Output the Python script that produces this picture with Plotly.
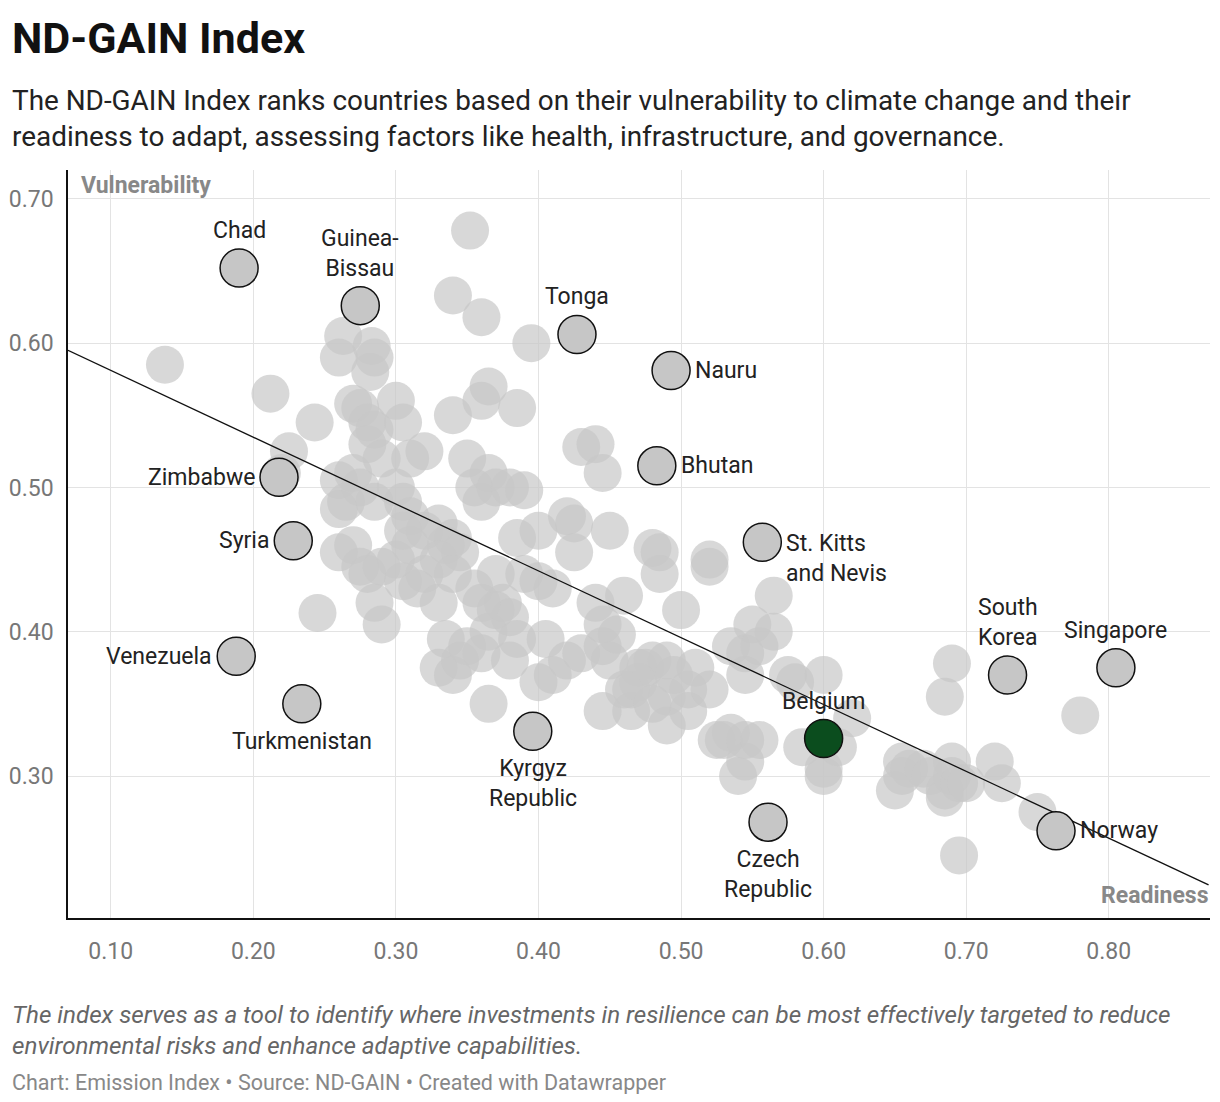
import plotly.graph_objects as go

# ── Data ────────────────────────────────────────────────────────────────────
bg_readiness = [0.138, 0.212, 0.225, 0.22, 0.245, 0.243, 0.26, 0.263, 0.27, 0.275, 0.283, 0.285, 0.282, 0.28, 0.28, 0.285,
                0.3, 0.305, 0.31, 0.32, 0.26, 0.265, 0.26, 0.27, 0.275, 0.285, 0.29, 0.3, 0.305, 0.31, 0.32, 0.33, 0.335,
                0.34, 0.345, 0.34, 0.35, 0.355, 0.36, 0.365, 0.37, 0.38, 0.39, 0.385, 0.36, 0.365, 0.34, 0.36, 0.352,
                0.395, 0.26, 0.27, 0.275, 0.28, 0.29, 0.3, 0.305, 0.315, 0.32, 0.33, 0.285, 0.29, 0.335, 0.33, 0.34,
                0.345, 0.35, 0.36, 0.365, 0.37, 0.375, 0.38, 0.385, 0.38, 0.385, 0.39, 0.4, 0.4, 0.41, 0.405, 0.41, 0.4,
                0.365, 0.42, 0.425, 0.425, 0.43, 0.44, 0.445, 0.45, 0.42, 0.43, 0.44, 0.445, 0.445, 0.45, 0.455, 0.46,
                0.465, 0.47, 0.465, 0.475, 0.48, 0.485, 0.485, 0.48, 0.49, 0.49, 0.49, 0.5, 0.505, 0.51, 0.505, 0.52,
                0.52, 0.52, 0.525, 0.53, 0.535, 0.535, 0.545, 0.545, 0.55, 0.555, 0.565, 0.565, 0.54, 0.545, 0.545,
                0.555, 0.575, 0.58, 0.585, 0.6, 0.6, 0.6, 0.62, 0.61, 0.655, 0.655, 0.66, 0.65, 0.67, 0.675, 0.685,
                0.685, 0.69, 0.69, 0.695, 0.7, 0.72, 0.725, 0.69, 0.685, 0.695, 0.75, 0.78, 0.445, 0.46, 0.47, 0.48,
                0.495, 0.33, 0.34, 0.355, 0.36, 0.37, 0.31, 0.305]
bg_vulnerability = [0.585, 0.565, 0.525, 0.51, 0.413, 0.545, 0.59, 0.605, 0.558, 0.555, 0.598, 0.59, 0.58, 0.545, 0.53, 0.54,
                    0.56, 0.545, 0.52, 0.525, 0.505, 0.49, 0.485, 0.51, 0.5, 0.49, 0.52, 0.5, 0.49, 0.48, 0.47, 0.475, 0.46,
                    0.465, 0.455, 0.55, 0.52, 0.5, 0.49, 0.51, 0.5, 0.5, 0.498, 0.555, 0.56, 0.57, 0.633, 0.618, 0.678,
                    0.6, 0.455, 0.46, 0.445, 0.44, 0.445, 0.45, 0.435, 0.43, 0.44, 0.42, 0.42, 0.405, 0.395, 0.375, 0.37,
                    0.38, 0.39, 0.385, 0.4, 0.415, 0.42, 0.41, 0.395, 0.38, 0.465, 0.44, 0.47, 0.435, 0.43, 0.395, 0.37,
                    0.365, 0.35, 0.48, 0.475, 0.455, 0.528, 0.53, 0.51, 0.47, 0.38, 0.385, 0.42, 0.405, 0.39, 0.38, 0.398,
                    0.425, 0.36, 0.375, 0.345, 0.375, 0.458, 0.455, 0.44, 0.38, 0.38, 0.355, 0.335, 0.415, 0.36, 0.375,
                    0.345, 0.445, 0.45, 0.36, 0.325, 0.325, 0.33, 0.39, 0.385, 0.37, 0.405, 0.39, 0.425, 0.4, 0.3, 0.31,
                    0.325, 0.325, 0.37, 0.365, 0.32, 0.37, 0.3, 0.305, 0.34, 0.32, 0.3, 0.31, 0.305, 0.29, 0.305, 0.3,
                    0.285, 0.29, 0.3, 0.31, 0.295, 0.295, 0.31, 0.295, 0.378, 0.355, 0.245, 0.275, 0.342, 0.345, 0.36,
                    0.365, 0.35, 0.37, 0.45, 0.44, 0.43, 0.42, 0.44, 0.46, 0.47]

countries = ["Chad", "Guinea-<br>Bissau", "Tonga", "Nauru", "Bhutan", "Zimbabwe", "Syria", "St. Kitts<br>and Nevis",
             "Venezuela", "Turkmenistan", "Kyrgyz<br>Republic", "Czech<br>Republic", "Belgium", "South<br>Korea",
             "Singapore", "Norway"]
readiness = [0.19, 0.275, 0.427, 0.493, 0.483, 0.218, 0.228, 0.557, 0.188, 0.234, 0.396, 0.561, 0.600, 0.729, 0.805, 0.763]
vulnerability = [0.652, 0.626, 0.606, 0.581, 0.515, 0.507, 0.463, 0.462, 0.383, 0.350, 0.331, 0.268, 0.326, 0.370, 0.375, 0.262]
label_side = ["top", "top", "top", "right", "right", "left", "left", "right", "left", "bottom", "bottom", "bottom",
              "top", "top", "top", "right"]

trend_x = [0.07, 0.87]
trend_y = [0.595, 0.2245]

FONT = "Roboto"

fig = go.Figure()
fig.add_trace(go.Scatter(
    x=bg_readiness, y=bg_vulnerability, mode="markers",
    marker=dict(size=38, color="rgba(200,200,200,0.7)", line=dict(width=0)),
    showlegend=False, hoverinfo="skip"))
fig.add_trace(go.Scatter(
    x=trend_x, y=trend_y, mode="lines", line=dict(color="#111", width=1.3),
    showlegend=False, hoverinfo="skip"))
colors = ["#0b4d1e" if c == "Belgium" else "#c6c6c6" for c in countries]
fig.add_trace(go.Scatter(
    x=readiness, y=vulnerability, mode="markers",
    marker=dict(size=38, color=colors, line=dict(width=1.5, color="#111")),
    showlegend=False, hovertext=countries, hoverinfo="text"))

# Labels (yshift positive = up)
offsets = {"top": (0, 22, "center", "bottom"), "bottom": (0, -22, "center", "top"),
           "left": (-22, 0, "right", "middle"), "right": (22, 0, "left", "middle")}
for name, x, y, side in zip(countries, readiness, vulnerability, label_side):
    ax, ay, xa, ya = offsets[side]
    if "St. Kitts" in name:
        ya = "top"
        ay = 14
    fig.add_annotation(x=x, y=y, text=name, showarrow=False, xshift=ax, yshift=ay,
                       xanchor=xa, yanchor=ya, align="center" if side in ("top", "bottom") else "left",
                       font=dict(size=23, color="#222", family=FONT))

fig.add_annotation(xref="paper", yref="paper", x=0.01, y=1.0, text="<b>Vulnerability</b>", showarrow=False,
                   xanchor="left", yanchor="top", font=dict(size=23, color="#888", family=FONT))
fig.add_annotation(xref="paper", yref="paper", x=1.0, y=0.01, text="<b>Readiness</b>", showarrow=False,
                   xanchor="right", yanchor="bottom", font=dict(size=23, color="#888", family=FONT))

# Header / footer
fig.add_annotation(xref="paper", yref="paper", x=-0.0508, y=1.213, yanchor="top", xanchor="left",
                   text="<b>ND-GAIN Index</b>", showarrow=False, font=dict(size=43, color="#111", family=FONT))
fig.add_annotation(xref="paper", yref="paper", x=-0.0508, y=1.118, yanchor="top", xanchor="left", align="left",
                   text="The ND-GAIN Index ranks countries based on their vulnerability to climate change and their<br>"
                        "readiness to adapt, assessing factors like health, infrastructure, and governance.",
                   showarrow=False, font=dict(size=27.9, color="#222", family=FONT))
fig.add_annotation(xref="paper", yref="paper", x=-0.0508, y=-0.108, yanchor="top", xanchor="left", align="left",
                   text="<i>The index serves as a tool to identify where investments in resilience can be most effectively targeted to reduce<br>"
                        "environmental risks and enhance adaptive capabilities.</i>",
                   showarrow=False, font=dict(size=24.2, color="#666", family=FONT))
fig.add_annotation(xref="paper", yref="paper", x=-0.0508, y=-0.2, yanchor="top", xanchor="left",
                   text="Chart: Emission Index • Source: ND-GAIN • Created with Datawrapper",
                   showarrow=False, font=dict(size=21.5, color="#888", family=FONT))

fig.update_layout(
    width=1204, height=1086,
    margin=dict(l=60, r=2, t=162, b=176),
    paper_bgcolor="white", plot_bgcolor="white",
    font=dict(family=FONT),
    hovermode="closest",
)
fig.update_xaxes(range=[0.07, 0.871], tickvals=[0.1, 0.2, 0.3, 0.4, 0.5, 0.6, 0.7, 0.8], tickformat=".2f",
                 showgrid=True, gridcolor="#e3e3e3", zeroline=False, showline=True, linecolor="#111", linewidth=1.5,
                 ticks="", tickfont=dict(size=23, color="#777"), ticklabelstandoff=12)
fig.update_yaxes(range=[0.2016, 0.72], tickvals=[0.3, 0.4, 0.5, 0.6, 0.7], tickformat=".2f",
                 showgrid=True, gridcolor="#e3e3e3", zeroline=False, showline=True, linecolor="#111", linewidth=1.5,
                 ticks="", tickfont=dict(size=23, color="#777"), ticklabelstandoff=8)

fig.write_html("out.html")
